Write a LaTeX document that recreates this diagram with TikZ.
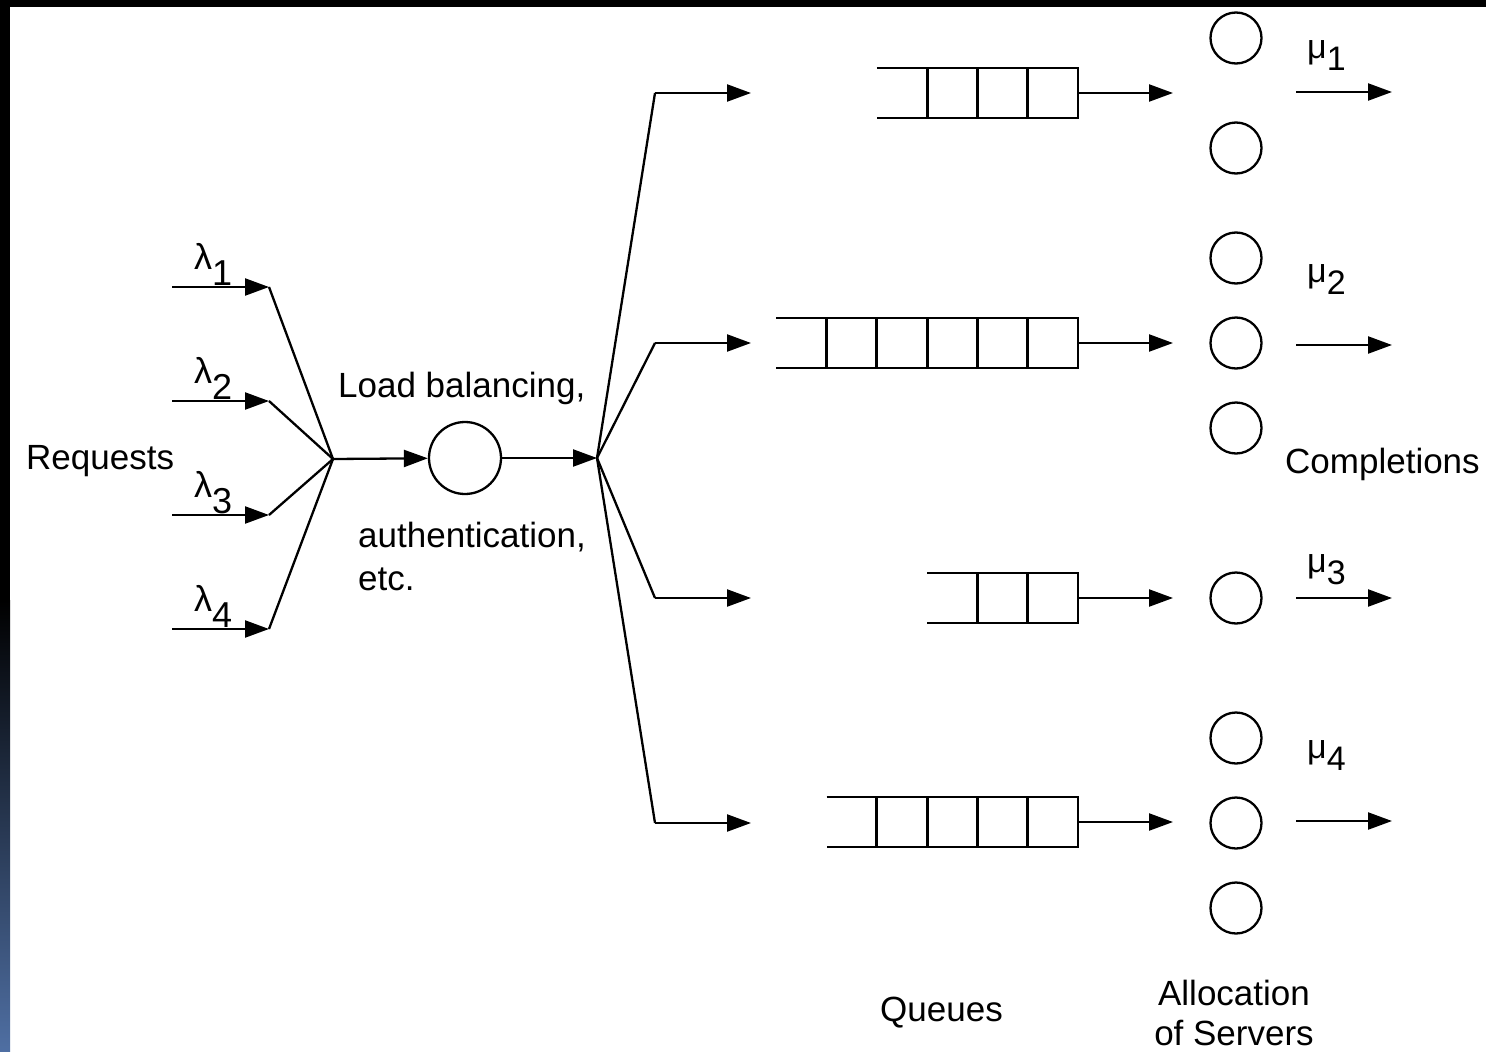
\documentclass[tikz,border=0pt]{standalone}
\usepackage{fontspec}
\setmainfont{Liberation Sans}
\usetikzlibrary{arrows.meta}
\definecolor{bandblue}{HTML}{4F6FA3}
\begin{document}
\begin{tikzpicture}[x=1pt,y=-1pt,
  conn/.style={line width=2.3pt,-{Triangle[length=24pt,width=17pt]}},
  wire/.style={line width=2.3pt},
  qbox/.style={line width=2.9pt},
  srv/.style={circle,draw,line width=2.3pt,minimum size=51pt,inner sep=0pt},
  lbl/.style={font=\fontsize{35}{42}\selectfont,inner sep=0pt},
  rate/.style={font=\fontsize{36}{42}\selectfont,inner sep=0pt,anchor=base west},
  srate/.style={font=\fontsize{34}{40}\selectfont,inner sep=0pt,anchor=base west}]

% page and frame bands
\useasboundingbox (0,0) rectangle (1486,1052);
\fill[white] (0,0) rectangle (1486,1052);
\fill[black] (0,0) rectangle (10,600);
\shade[top color=black,bottom color=bandblue] (0,600) rectangle (10,1052);
\fill[black] (0,0) rectangle (1486,7);

% incoming request streams
\coordinate (join) at (333,459);
\foreach \i/\y in {1/287,2/401,3/515,4/629}{
  \coordinate (in\i) at (172,\y);
  \coordinate (tip\i) at (269,\y);
  \draw[conn] (in\i) -- (tip\i);
  \draw[wire] (tip\i) -- (join);
  \node[rate] (lam\i) at (194,\y-18) {λ\raisebox{-16pt}{\i}};
}
\node[lbl,anchor=base west] (req) at (26,469) {Requests};

% load balancer
\node[srv,minimum size=72pt] (lb) at (465,458) {};
\draw[conn] (join) -- (lb);
\coordinate (split) at (597,458);
\draw[conn] (lb) -- (split);
\node[lbl,anchor=base west] (lbtext) at (338,397) {Load balancing,};
\node[lbl,anchor=base west] (authtext) at (358,547) {authentication,};
\node[lbl,anchor=base west] (etctext) at (358,590) {etc.};

% dispatch to the queues
\foreach \i/\y in {1/93,2/343,3/598,4/823}{
  \coordinate (bk\i) at (655,\y);
  \coordinate (bt\i) at (751,\y);
  \draw[wire] (split) -- (bk\i);
  \draw[conn] (bk\i) -- (bt\i);
}

% queues: open left end, closed cells on the right
\foreach \i/\y/\n in {1/93/3,2/343/5,3/598/2,4/822/4}{
  \pgfmathsetmacro{\left}{1078-50.3*(\n+1)}
  \draw[qbox] (\left,\y-25) -- (1078,\y-25) -- (1078,\y+25) -- (\left,\y+25);
  \foreach \k in {1,...,\n}{
    \draw[qbox] (1078-50.3*\k,\y-25) -- (1078-50.3*\k,\y+25);
  }
  \coordinate (qout\i) at (1078,\y);
  \coordinate (qtip\i) at (1173,\y);
  \draw[conn] (qout\i) -- (qtip\i);
}
\node[lbl,anchor=base west] (queues) at (880,1021) {Queues};

% servers
\foreach \n/\y in {11/38,12/148,21/258,22/343,23/428,31/598,41/738,42/823,43/908}{
  \node[srv] (s\n) at (1236,\y) {};
}
\node[lbl,anchor=base] (alloc) at (1234,1005) {Allocation};
\node[lbl,anchor=base] (ofsrv) at (1234,1045) {of Servers};

% completions
\foreach \i/\y/\b in {1/92/70,2/345/294,3/598/584,4/821/770}{
  \coordinate (out\i) at (1296,\y);
  \coordinate (otip\i) at (1392,\y);
  \draw[conn] (out\i) -- (otip\i);
  \node[srate] (mu\i) at (1307,\b-12) {μ\raisebox{-12pt}{\i}};
}
\node[lbl,anchor=base west] (compl) at (1285,473) {Completions};
\end{tikzpicture}
\end{document}
